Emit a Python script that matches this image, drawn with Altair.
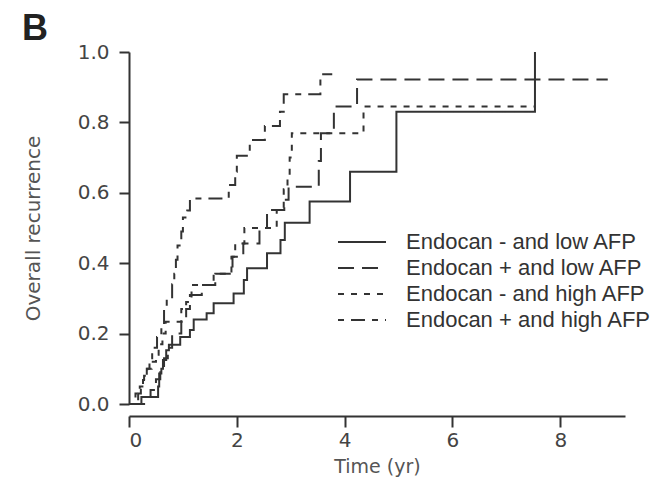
import altair as alt
import pandas as pd

names = ["Endocan - and low AFP", "Endocan + and low AFP",
         "Endocan - and high AFP", "Endocan + and high AFP"]

t_neg_low = [0, 0.23, 0.54, 0.56, 0.60, 0.63, 0.69, 0.74, 0.95, 1.13, 1.20, 1.44, 1.57,
             1.94, 2.13, 2.19, 2.56, 2.81, 2.89, 3.35, 4.10, 4.96, 7.53]
y_neg_low = [0, 0.02, 0.05, 0.087, 0.10, 0.125, 0.153, 0.168, 0.19, 0.21, 0.24, 0.258, 0.286,
             0.314, 0.352, 0.386, 0.428, 0.466, 0.515, 0.575, 0.66, 0.83, 1.0]

t_pos_low = [0, 0.28, 0.40, 0.50, 0.58, 0.65, 0.72, 0.80, 0.97, 1.06, 1.13, 1.35, 1.60,
             1.92, 2.12, 2.42, 2.56, 2.88, 2.96, 3.52, 3.56, 3.80, 4.23, 8.88]
y_pos_low = [0, 0.02, 0.04, 0.07, 0.10, 0.13, 0.16, 0.20, 0.234, 0.27, 0.31, 0.338, 0.37,
             0.418, 0.456, 0.50, 0.551, 0.58, 0.617, 0.69, 0.769, 0.845, 0.922, 0.922]

t_neg_high = [0, 0.12, 0.20, 0.28, 0.34, 0.42, 0.50, 0.55, 0.62, 0.68, 0.97, 1.06, 1.16,
              1.57, 1.90, 1.97, 2.14, 2.74, 2.87, 2.94, 2.98, 3.02, 4.35, 7.53]
y_neg_high = [0, 0.03, 0.05, 0.08, 0.10, 0.12, 0.14, 0.17, 0.20, 0.234, 0.27, 0.29, 0.338,
              0.37, 0.418, 0.456, 0.50, 0.551, 0.61, 0.65, 0.70, 0.769, 0.845, 0.845]

t_pos_high = [0, 0.17, 0.22, 0.26, 0.33, 0.38, 0.43, 0.52, 0.60, 0.65, 0.70, 0.80, 0.84,
              0.87, 0.90, 0.97, 1.00, 1.08, 1.13, 1.85, 1.97, 2.00, 2.24, 2.52, 2.80, 2.87,
              3.55, 3.77]
y_pos_high = [0, 0.03, 0.048, 0.068, 0.10, 0.13, 0.16, 0.19, 0.23, 0.27, 0.30, 0.34, 0.37,
              0.41, 0.45, 0.49, 0.53, 0.55, 0.584, 0.622, 0.66, 0.705, 0.75, 0.79, 0.83, 0.88,
              0.937, 0.937]

y_ticks = [0, 0.2, 0.4, 0.6, 0.8, 1.0]
x_ticks = [0, 2, 4, 6, 8]

series = [(t_neg_low, y_neg_low), (t_pos_low, y_pos_low),
          (t_neg_high, y_neg_high), (t_pos_high, y_pos_high)]
rows = []
for name, (ts, ys) in zip(names, series):
    for t, y in zip(ts, ys):
        rows.append({"group": name, "t": t, "y": y})
df = pd.DataFrame(rows)

FONT = "DejaVu Sans"
INK = "#333333"

chart = alt.Chart(df).mark_line(
    interpolate="step-after", color=INK, strokeWidth=2
).encode(
    x=alt.X("t:Q", scale=alt.Scale(domain=[0, 9.2], nice=False, zero=False),
            axis=alt.Axis(values=x_ticks, title="Time (yr)", grid=False, offset=12,
                          tickSize=11, tickWidth=2, domainWidth=2,
                          tickColor=INK, domainColor=INK,
                          labelFont=FONT, labelFontSize=20, labelColor="#444444",
                          labelPadding=3,
                          titleFont=FONT, titleFontSize=19, titleFontWeight="normal",
                          titleColor="#555555", titlePadding=7)),
    y=alt.Y("y:Q", scale=alt.Scale(domain=[0, 1], nice=False),
            axis=alt.Axis(values=y_ticks, format=".1f", title="Overall recurrence",
                          grid=False, tickSize=10, tickWidth=2, domainWidth=2,
                          tickColor=INK, domainColor=INK,
                          labelFont=FONT, labelFontSize=20, labelColor="#444444",
                          labelPadding=10,
                          titleFont=FONT, titleFontSize=20, titleFontWeight="normal",
                          titleColor="#555555", titlePadding=34)),
    strokeDash=alt.StrokeDash(
        "group:N", sort=names,
        scale=alt.Scale(domain=names, range=[[1, 0], [16, 8], [6, 7], [6, 7, 14, 7]]),
        legend=alt.Legend(title=None, orient="none", legendX=208, legendY=177,
                          symbolType="stroke", symbolSize=2304, symbolStrokeWidth=2,
                          symbolStrokeColor=INK, labelFont="Liberation Sans",
                          labelFontSize=22, labelColor="#333333", labelOffset=19,
                          clipHeight=26, rowPadding=0, padding=0, labelLimit=400)),
).properties(
    width=496, height=352,
    autosize=alt.AutoSizeParams(type="none"),
    padding={"left": 121, "top": 44, "right": 39, "bottom": 78},
    title=alt.TitleParams("B", anchor="start", frame="group", dx=-107, dy=36, offset=2,
                          baseline="alphabetic", fontSize=36, fontWeight="bold",
                          font="Liberation Sans", color="#222222"),
).configure_view(stroke=None)

chart.save("out.html", embed_options={"renderer": "svg", "actions": False})
